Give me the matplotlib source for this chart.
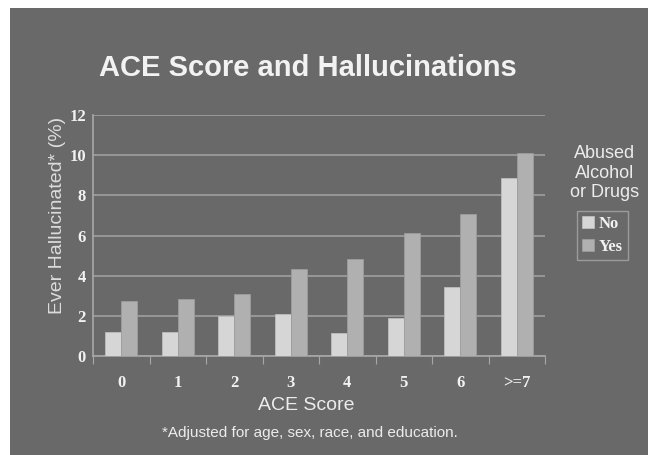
import matplotlib.pyplot as plt
import numpy as np
from matplotlib.patches import Rectangle

categories = ['0', '1', '2', '3', '4', '5', '6', '>=7']
no_vals = [1.2, 1.2, 2.0, 2.08, 1.12, 1.88, 3.41, 8.86]
yes_vals = [2.72, 2.83, 3.1, 4.33, 4.81, 6.11, 7.09, 10.1]

bg = '#696969'
fig = plt.figure(figsize=(6.48, 4.55), dpi=100, facecolor='white')
fig.patches.append(Rectangle((10/648, 0), 1, 1 - 8/455, transform=fig.transFigure,
                             facecolor=bg, edgecolor='none', zorder=-10))

ax = fig.add_axes([93/648, 1 - 355.7/455, (545 - 93)/648, (355.7 - 115.3)/455])
ax.set_facecolor(bg)

x = np.arange(len(categories))
w = 0.285
ax.bar(x - w/2, no_vals, w, color='#d6d6d6', edgecolor='#bdbdbd', linewidth=0.6, zorder=3)
ax.bar(x + w/2, yes_vals, w, color='#b0b0b0', edgecolor='#9c9c9c', linewidth=0.6, zorder=3)

ax.set_xlim(-0.5, len(categories) - 0.5)
ax.set_ylim(0, 12)
ax.set_yticks(range(0, 13, 2))
ax.yaxis.grid(True, color='#a0a0a0', linewidth=1.2, zorder=0)
for s in ['top', 'right']:
    ax.spines[s].set_visible(False)
for s in ['left', 'bottom']:
    ax.spines[s].set_color('#a8a8a8')
    ax.spines[s].set_linewidth(1.2)

# ticks sit between groups, labels sit under groups
ax.set_xticks(np.arange(-0.5, len(categories), 1), minor=False)
ax.set_xticklabels([])
ax.set_xticks(x, minor=True)
ax.set_xticklabels(categories, minor=True, family='Liberation Serif', weight='bold',
                   fontsize=12, color='#f2f2f2')
ax.tick_params(axis='x', which='major', length=6, color='#a8a8a8', direction='out')
ax.tick_params(axis='x', which='minor', length=0, pad=14)
ax.tick_params(axis='y', length=0, pad=5)
for t in ax.get_yticklabels():
    t.set_family('Liberation Serif')
    t.set_weight('bold')
    t.set_fontsize(12)
    t.set_color('#f2f2f2')

fig.text(57/648, 1 - 215/455, 'Ever Hallucinated* (%)', rotation=90, ha='center', va='center',
         family='Liberation Sans', fontsize=14, color='#dcdcdc')
fig.text(308/648, 1 - 68/455, 'ACE Score and Hallucinations', ha='center', va='center',
         family='Liberation Sans', weight='bold', fontsize=21, color='#f2f2f2')
fig.text(306/648, 1 - 406/455, 'ACE Score', ha='center', va='center',
         family='Liberation Sans', fontsize=14, color='#ececec')
fig.text(310/648, 1 - 433/455, '*Adjusted for age, sex, race, and education.', ha='center',
         va='center', family='Liberation Sans', fontsize=11, color='#ececec')
fig.text(605/648, 1 - 173/455, 'Abused\nAlcohol\nor Drugs', ha='center', va='center',
         family='Liberation Sans', fontsize=13, color='#ececec', linespacing=1.2)

leg = ax.legend(['No', 'Yes'], loc='upper left', bbox_to_anchor=(577/648, 1 - 211/455),
                bbox_transform=fig.transFigure, frameon=True, fancybox=False,
                prop={'family': 'Liberation Serif', 'weight': 'bold', 'size': 12},
                handlelength=0.7, handleheight=0.7, handletextpad=0.3,
                borderpad=0.3, labelspacing=0.4, borderaxespad=0)
leg.get_frame().set_facecolor(bg)
leg.get_frame().set_edgecolor('#a8a8a8')
for t in leg.get_texts():
    t.set_color('#f2f2f2')

fig.savefig('out.png', dpi=100, facecolor='white')
